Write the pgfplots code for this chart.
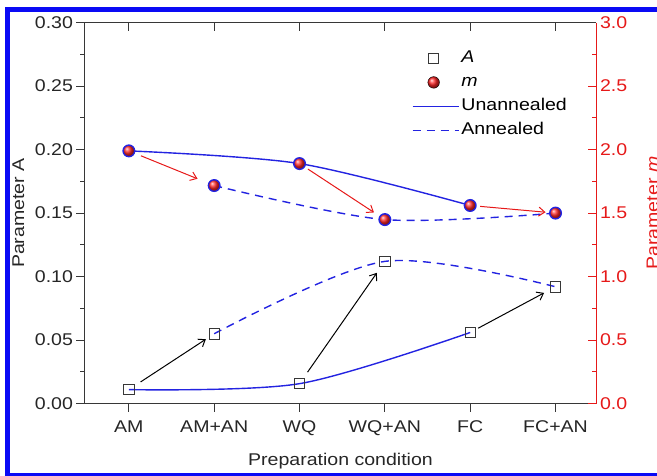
\documentclass[border=0pt]{standalone}
\usepackage{fontspec}
\setmainfont{Liberation Sans}[FakeStretch=1.15]
\usepackage{pgfplots}
\pgfplotsset{compat=1.18}
\usetikzlibrary{arrows.meta}

\definecolor{axgray}{RGB}{55,55,55}
\definecolor{myred}{RGB}{230,25,25}
\definecolor{myblue}{RGB}{35,35,225}
\definecolor{frameblue}{RGB}{10,10,245}

\pgfplotsset{
  mylegmark/.style={legend image code/.code={\draw[mark repeat=2,mark phase=2,##1] plot coordinates {(0bp,0bp) (18bp,0bp) (36bp,0bp)};}},
  mylegsolid/.style={legend image code/.code={\draw[draw=myblue, line width=1.6bp, solid] (-3bp,0bp) -- (43bp,0bp);}},
  mylegdash/.style={legend image code/.code={\draw[draw=myblue, line width=1.6bp, dash pattern=on 8bp off 6bp] (-3bp,0bp) -- (43bp,0bp);}},
}

\begin{document}
\begin{tikzpicture}[x=1bp,y=1bp,font=\fontsize{17bp}{19bp}\selectfont]

\begin{axis}[
  at={(99,57)}, anchor=south west, scale only axis,
  width=512bp, height=381bp,
  xmin=-0.52, xmax=5.48, ymin=0, ymax=0.30,
  axis x line*=bottom, axis y line*=left,
  axis line style={-, axgray, line width=1bp},
  tick align=outside, major tick length=8bp, minor tick length=4bp,
  xtick={0,1,2,3,4,5}, xticklabels={AM,AM+AN,WQ,WQ+AN,FC,FC+AN},
  xticklabel style={anchor=base, yshift=-21bp},
  ytick={0,0.05,0.10,0.15,0.20,0.25,0.30},
  minor y tick num=1,
  yticklabel style={/pgf/number format/.cd, fixed, fixed zerofill, precision=2},
  /pgf/number format/assume math mode=true,
  every tick/.append style={axgray, line width=1bp},
  every minor tick/.append style={axgray, line width=1bp},
  tick label style={text=black!85},
  xlabel={Preparation condition}, ylabel={Parameter A},
  xlabel style={at={(axis description cs:0.5,0)}, anchor=base, yshift=-62bp},
  ylabel style={at={([xshift=-66bp]axis description cs:0,0.5)}, anchor=center},
  label style={text=black!85},
  clip=false,
]
\addplot[color=myblue, line width=1.4bp, smooth, tension=0.5, mark=square, mark size=5.2bp,
  mark options={solid, draw=axgray, line width=0.9bp}]
  coordinates {(0,0.011) (2,0.0157) (4,0.056)};
\addplot[color=myblue, line width=1.4bp, smooth, tension=0.5, dash pattern=on 8bp off 6bp,
  mark=square, mark size=5.2bp, mark options={solid, draw=axgray, line width=0.9bp}]
  coordinates {(1,0.055) (3,0.112) (5,0.092)};
\draw[black, line width=1bp, -{Straight Barb[length=6bp,width=9bp]}, shorten <=14bp, shorten >=10bp]
  (axis cs:0,0.011) -- (axis cs:1,0.055);
\draw[black, line width=1bp, -{Straight Barb[length=6bp,width=9bp]}, shorten <=14bp, shorten >=14bp]
  (axis cs:2,0.0157) -- (axis cs:3,0.112);
\draw[black, line width=1bp, -{Straight Barb[length=6bp,width=9bp]}, shorten <=9bp, shorten >=13bp]
  (axis cs:4,0.056) -- (axis cs:5,0.092);
\end{axis}

\begin{axis}[
  at={(99,57)}, anchor=south west, scale only axis,
  width=512bp, height=381bp,
  xmin=-0.52, xmax=5.48, ymin=0, ymax=3,
  axis x line*=top, axis y line*=right,
  axis line style={-},
  x axis line style={axgray, line width=1bp},
  y axis line style={myred, line width=1bp},
  tick align=inside, major tick length=8bp, minor tick length=4bp,
  xtick={0,1,2,3,4,5}, xticklabels={},
  ytick={0,0.5,1.0,1.5,2.0,2.5,3.0},
  minor y tick num=1,
  yticklabel style={text=myred, /pgf/number format/.cd, fixed, fixed zerofill, precision=1},
  /pgf/number format/assume math mode=true,
  every x tick/.append style={axgray, line width=1bp},
  every y tick/.append style={myred, line width=1bp},
  every minor y tick/.append style={myred, line width=1bp},
  ylabel={Parameter \textit{m}},
  ylabel style={text=myred, at={([xshift=56bp]axis description cs:1,0.5)}, anchor=center},
  clip=false,
  legend style={at={(0.639,0.934)}, anchor=north west, draw=none, fill=none,
    row sep=3bp, inner sep=0pt, nodes={text height=13bp, text depth=4bp}},
  legend cell align=left,
]
\addplot[forget plot, color=myblue, line width=1.4bp, smooth, tension=0.5, mark=ball, mark size=5.8bp,
  mark options={ball color=red!85!white}]
  coordinates {(0,1.99) (2,1.89) (4,1.56)};
\addplot[forget plot, color=myblue, line width=1.4bp, smooth, tension=0.5, dash pattern=on 8bp off 6bp,
  mark=ball, mark size=5.8bp, mark options={solid, ball color=red!85!white}]
  coordinates {(1,1.717) (3,1.449) (5,1.50)};
\draw[myred, line width=1bp, -{Straight Barb[length=6bp,width=9bp]}, shorten <=13bp, shorten >=18bp]
  (axis cs:0,1.99) -- (axis cs:1,1.717);
\draw[myred, line width=1bp, -{Straight Barb[length=6bp,width=9bp]}, shorten <=10bp, shorten >=13bp]
  (axis cs:2,1.89) -- (axis cs:3,1.449);
\draw[myred, line width=1bp, -{Straight Barb[length=6bp,width=9bp]}, shorten <=10bp, shorten >=10bp]
  (axis cs:4,1.56) -- (axis cs:5,1.50);
\addlegendimage{only marks, mark=square, mark size=5bp, draw=axgray, line width=0.9bp, mylegmark}
\addlegendentry{\textit{A}}
\addlegendimage{only marks, mark=ball, mark size=5.8bp, mark options={ball color=red!85!white}, mylegmark}
\addlegendentry{\textit{m}}
\addlegendimage{mylegsolid}
\addlegendentry{Unannealed}
\addlegendimage{mylegdash}
\addlegendentry{Annealed}
\end{axis}

\draw[frameblue, line width=5bp] (7.5,0.5) rectangle (700,466.5);
\pgfresetboundingbox
\path[use as bounding box] (0,0) rectangle (657,476);
\end{tikzpicture}
\end{document}
